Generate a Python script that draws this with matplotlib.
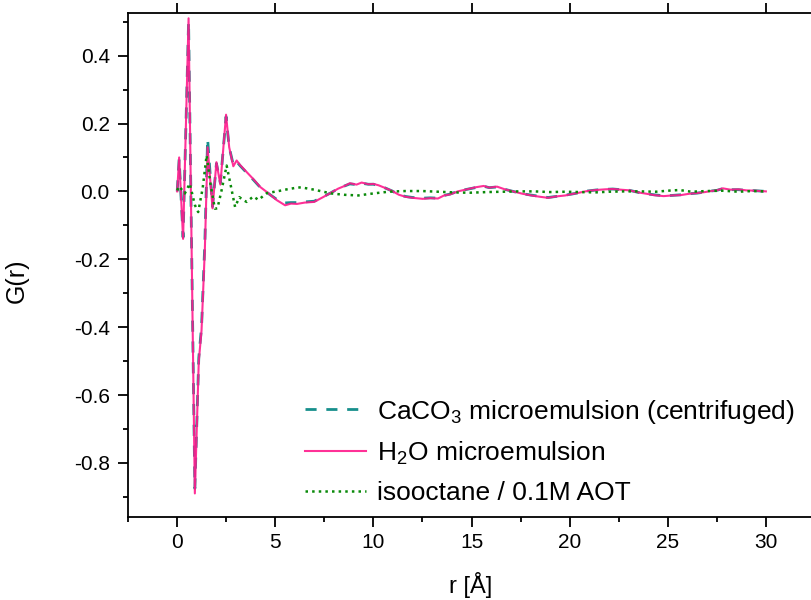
import numpy as np
import matplotlib
matplotlib.use("Agg")
import matplotlib.pyplot as plt
from matplotlib.ticker import MultipleLocator

plt.rcParams['font.family'] = ['Liberation Sans', 'DejaVu Sans']
plt.rcParams['mathtext.fontset'] = 'custom'
plt.rcParams['mathtext.rm'] = 'Liberation Sans'

# H2O microemulsion (solid pink)
r_h2o = [0.0, 0.1, 0.3, 0.58, 0.9, 1.1, 1.24, 1.41, 1.55, 1.8, 2.0, 2.2, 2.49, 2.65,
         2.86, 3.03, 3.2, 3.54, 3.9, 4.23, 4.57, 5.08, 5.5, 5.8, 6.1, 6.5, 6.98, 7.4,
         7.84, 8.2, 8.53, 8.8, 9.14, 9.4, 9.74, 10.0, 10.26, 10.6, 10.96, 11.3, 11.64,
         12.0, 12.51, 12.9, 13.29, 13.6, 13.9, 14.3, 14.76, 15.2, 15.62, 15.9, 16.3,
         16.7, 17.18, 17.6, 18.05, 18.5, 18.9, 19.3, 19.78, 20.1, 20.47, 20.9, 21.33,
         21.8, 22.2, 22.6, 23.06, 23.5, 23.92, 24.3, 24.79, 25.2, 25.66, 26.1, 26.5,
         26.9, 27.2, 27.5, 27.8, 28.2, 28.6, 29.0, 29.45, 30.0]
g_h2o = [0.0, 0.10, -0.14, 0.51, -0.89, -0.50, -0.41, -0.17, 0.13, -0.05, 0.086, 0.02,
         0.226, 0.13, 0.074, 0.091, 0.078, 0.057, 0.035, 0.013, -0.002, -0.026, -0.041,
         -0.036, -0.037, -0.033, -0.031, -0.018, -0.004, 0.008, 0.016, 0.024, 0.020,
         0.026, 0.021, 0.022, 0.018, 0.010, 0.001, -0.010, -0.016, -0.019, -0.022,
         -0.020, -0.021, -0.012, -0.009, 0.000, 0.006, 0.012, 0.016, 0.011, 0.014,
         0.006, -0.001, -0.007, -0.012, -0.016, -0.019, -0.015, -0.012, -0.008, -0.004,
         0.001, 0.004, 0.006, 0.007, 0.005, 0.003, -0.003, -0.007, -0.011, -0.014,
         -0.012, -0.011, -0.007, -0.005, -0.002, 0.001, 0.003, 0.009, 0.005, 0.006,
         0.003, 0.002, 0.0]

# CaCO3 microemulsion (centrifuged) (dashed teal)
r_caco3 = [0.0, 0.1, 0.3, 0.58, 0.9, 1.1, 1.24, 1.41, 1.55, 1.8, 2.0, 2.2, 2.49, 2.65,
           2.86, 3.03, 3.2, 3.54, 3.9, 4.23, 4.57, 5.08, 5.5, 5.8, 6.1, 6.5, 6.98, 7.4,
           7.84, 8.2, 8.53, 8.8, 9.14, 9.4, 9.74, 10.0, 10.26, 10.6, 10.96, 11.3, 11.64,
           12.0, 12.51, 12.9, 13.29, 13.6, 13.9, 14.3, 14.76, 15.2, 15.62, 15.9, 16.3,
           16.7, 17.18, 17.6, 18.05, 18.5, 18.9, 19.3, 19.78, 20.1, 20.47, 20.9, 21.33,
           21.8, 22.2, 22.6, 23.06, 23.5, 23.92, 24.3, 24.79, 25.2, 25.66, 26.1, 26.5,
           26.9, 27.2, 27.5, 27.8, 28.2, 28.6, 29.0, 29.45, 30.0]
g_caco3 = [0.0, 0.095, -0.135, 0.50, -0.875, -0.49, -0.40, -0.15, 0.155, -0.045, 0.082,
           0.025, 0.22, 0.13, 0.078, 0.088, 0.076, 0.055, 0.033, 0.012, -0.003, -0.024,
           -0.034, -0.033, -0.033, -0.031, -0.029, -0.017, -0.004, 0.008, 0.016, 0.022,
           0.020, 0.024, 0.021, 0.021, 0.017, 0.010, 0.001, -0.010, -0.015, -0.018,
           -0.020, -0.019, -0.020, -0.012, -0.008, 0.000, 0.006, 0.011, 0.015, 0.011,
           0.013, 0.006, -0.001, -0.007, -0.011, -0.015, -0.018, -0.015, -0.011, -0.008,
           -0.004, 0.001, 0.004, 0.006, 0.007, 0.005, 0.003, -0.003, -0.007, -0.010,
           -0.013, -0.012, -0.010, -0.007, -0.005, -0.002, 0.001, 0.003, 0.008, 0.005,
           0.005, 0.003, 0.002, 0.0]

# isooctane / 0.1M AOT (dotted green)
r_iso = [0.0, 0.1, 0.25, 0.39, 0.64, 0.9, 1.07, 1.3, 1.5, 1.7, 1.92, 2.05, 2.25, 2.52,
         2.72, 2.95, 3.17, 3.35, 3.54, 3.88, 4.14, 4.57, 5.08, 5.59, 6.0, 6.3, 6.98,
         7.84, 8.5, 9.23, 10.0, 10.78, 11.6, 12.5, 13.3, 14.1, 14.9, 15.8, 16.6, 17.4,
         18.2, 19.0, 19.8, 20.5, 21.3, 22.0, 22.8, 23.6, 24.4, 25.0, 25.6, 26.2, 27.0,
         27.8, 28.6, 29.3, 30.0]
g_iso = [0.003, 0.015, 0.004, -0.006, 0.023, -0.04, -0.061, 0.01, 0.106, 0.02, -0.051,
         -0.05, 0.0, 0.076, 0.02, -0.046, -0.017, -0.025, -0.031, -0.015, -0.025,
         -0.005, 0.0, 0.006, 0.010, 0.012, 0.005, -0.006, -0.010, -0.012, -0.006,
         -0.001, 0.001, 0.001, -0.001, -0.003, -0.004, -0.002, -0.001, 0.0, 0.0,
         -0.002, -0.001, -0.002, -0.003, -0.001, 0.0, 0.0, -0.001, 0.002, 0.004,
         -0.001, 0.001, 0.002, -0.001, 0.001, 0.0]

fig = plt.figure(figsize=(8.11, 6.0), dpi=100)
ax = fig.add_axes([0.158, 0.138, 0.842, 0.84])

ax.plot(r_caco3, g_caco3, '--', color='#178f8c', lw=2.0, dashes=(4, 3.5),
        label='CaCO$_3$ microemulsion (centrifuged)')
ax.plot(r_h2o, g_h2o, '-', color='#ff1a8c', lw=1.5, alpha=0.9,
        label='H$_2$O microemulsion')
ax.plot(r_iso, g_iso, ':', color='#0a8a0a', lw=1.8,
        label='isooctane / 0.1M AOT')

ax.set_xlim(-2.5, 32.3)
ax.set_ylim(-0.96, 0.525)
ax.xaxis.set_major_locator(MultipleLocator(5))
ax.xaxis.set_minor_locator(MultipleLocator(2.5))
ax.yaxis.set_major_locator(MultipleLocator(0.2))
ax.yaxis.set_minor_locator(MultipleLocator(0.1))
ax.yaxis.set_major_formatter(plt.FuncFormatter(lambda v, p: f'{v:.1f}'))

ax.spines['right'].set_visible(False)
for s in ['left', 'bottom', 'top']:
    ax.spines[s].set_linewidth(1.3)
ax.tick_params(which='major', direction='out', length=7.2, width=1.3, labelsize=15)
ax.tick_params(which='minor', direction='out', length=3.6, width=1.3)
ax.tick_params(axis='x', which='major', pad=4)
ax.tick_params(axis='y', which='major', pad=6)
ax.tick_params(top=True, which='major', axis='x', labeltop=False)

ax.set_xlabel('r [Å]', fontsize=17)
ax.set_ylabel('G(r)', fontsize=18)
ax.xaxis.set_label_coords(0.501, -0.108)
ax.yaxis.set_label_coords(-0.145, 0.47)

ax.legend(loc='upper left', bbox_to_anchor=(0.244, 0.258), frameon=False,
          fontsize=19, handlelength=2.3, handletextpad=0.4, labelspacing=0.53,
          borderaxespad=0)

fig.savefig('out.png', dpi=100)
